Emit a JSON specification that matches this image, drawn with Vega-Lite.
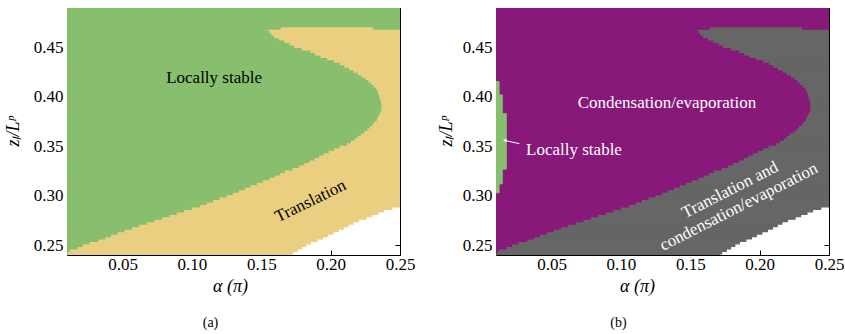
{
  "$schema": "https://vega.github.io/schema/vega-lite/v6.json",
  "background": "white",
  "padding": {"left": 4, "top": 7, "right": 0, "bottom": 3},
  "spacing": 22,
  "config": {
    "font": "Liberation Serif",
    "view": {"stroke": null},
    "axis": {
      "labelFont": "Liberation Serif", "labelFontSize": 17, "labelColor": "black",
      "titleFont": "Liberation Serif", "titleFontSize": 18, "titleFontWeight": "normal", "titleColor": "black",
      "tickColor": "black", "tickSize": -5, "tickWidth": 1, "domainColor": "black", "domainWidth": 1,
      "grid": false, "zindex": 1, "labelFlush": false, "labelOverlap": false
    }
  },
  "datasets": {
    "bands": [
      {"z1":0.2400,"z2":0.2413,"a0":0.01,"g":0.0100,"t":0.1707},
      {"z1":0.2413,"z2":0.2438,"a0":0.01,"g":0.0100,"t":0.1725},
      {"z1":0.2438,"z2":0.2463,"a0":0.01,"g":0.0115,"t":0.1758},
      {"z1":0.2463,"z2":0.2488,"a0":0.01,"g":0.0170,"t":0.1790},
      {"z1":0.2488,"z2":0.2513,"a0":0.01,"g":0.0210,"t":0.1820},
      {"z1":0.2513,"z2":0.2538,"a0":0.01,"g":0.0258,"t":0.1853},
      {"z1":0.2538,"z2":0.2563,"a0":0.01,"g":0.0320,"t":0.1900},
      {"z1":0.2563,"z2":0.2588,"a0":0.01,"g":0.0371,"t":0.1940},
      {"z1":0.2588,"z2":0.2613,"a0":0.01,"g":0.0412,"t":0.1975},
      {"z1":0.2613,"z2":0.2638,"a0":0.01,"g":0.0459,"t":0.2015},
      {"z1":0.2638,"z2":0.2663,"a0":0.01,"g":0.0510,"t":0.2055},
      {"z1":0.2663,"z2":0.2688,"a0":0.01,"g":0.0563,"t":0.2091},
      {"z1":0.2688,"z2":0.2713,"a0":0.01,"g":0.0615,"t":0.2126},
      {"z1":0.2713,"z2":0.2738,"a0":0.01,"g":0.0671,"t":0.2160},
      {"z1":0.2738,"z2":0.2763,"a0":0.01,"g":0.0725,"t":0.2200},
      {"z1":0.2763,"z2":0.2788,"a0":0.01,"g":0.0780,"t":0.2255},
      {"z1":0.2788,"z2":0.2813,"a0":0.01,"g":0.0832,"t":0.2295},
      {"z1":0.2813,"z2":0.2838,"a0":0.01,"g":0.0886,"t":0.2340},
      {"z1":0.2838,"z2":0.2863,"a0":0.01,"g":0.0939,"t":0.2380},
      {"z1":0.2863,"z2":0.2888,"a0":0.01,"g":0.0994,"t":0.2440},
      {"z1":0.2888,"z2":0.2913,"a0":0.01,"g":0.1055,"t":0.2500},
      {"z1":0.2913,"z2":0.2938,"a0":0.01,"g":0.1101,"t":0.2500},
      {"z1":0.2938,"z2":0.2963,"a0":0.01,"g":0.1147,"t":0.2500},
      {"z1":0.2963,"z2":0.2988,"a0":0.01,"g":0.1193,"t":0.2500},
      {"z1":0.2988,"z2":0.3013,"a0":0.01,"g":0.1243,"t":0.2500},
      {"z1":0.3013,"z2":0.3038,"a0":0.01,"g":0.1290,"t":0.2500},
      {"z1":0.3038,"z2":0.3063,"a0":0.01,"g":0.1333,"t":0.2500},
      {"z1":0.3063,"z2":0.3088,"a0":0.01,"g":0.1377,"t":0.2500},
      {"z1":0.3088,"z2":0.3113,"a0":0.01,"g":0.1420,"t":0.2500},
      {"z1":0.3113,"z2":0.3138,"a0":0.01,"g":0.1464,"t":0.2500},
      {"z1":0.3138,"z2":0.3163,"a0":0.01,"g":0.1507,"t":0.2500},
      {"z1":0.3163,"z2":0.3188,"a0":0.01,"g":0.1553,"t":0.2500},
      {"z1":0.3188,"z2":0.3213,"a0":0.01,"g":0.1592,"t":0.2500},
      {"z1":0.3213,"z2":0.3238,"a0":0.01,"g":0.1632,"t":0.2500},
      {"z1":0.3238,"z2":0.3263,"a0":0.01,"g":0.1665,"t":0.2500},
      {"z1":0.3263,"z2":0.3288,"a0":0.01,"g":0.1721,"t":0.2500},
      {"z1":0.3288,"z2":0.3313,"a0":0.01,"g":0.1768,"t":0.2500},
      {"z1":0.3313,"z2":0.3338,"a0":0.01,"g":0.1805,"t":0.2500},
      {"z1":0.3338,"z2":0.3363,"a0":0.01,"g":0.1843,"t":0.2500},
      {"z1":0.3363,"z2":0.3388,"a0":0.01,"g":0.1880,"t":0.2500},
      {"z1":0.3388,"z2":0.3413,"a0":0.01,"g":0.1913,"t":0.2500},
      {"z1":0.3413,"z2":0.3438,"a0":0.01,"g":0.1944,"t":0.2500},
      {"z1":0.3438,"z2":0.3463,"a0":0.01,"g":0.1981,"t":0.2500},
      {"z1":0.3463,"z2":0.3488,"a0":0.01,"g":0.2020,"t":0.2500},
      {"z1":0.3488,"z2":0.3513,"a0":0.01,"g":0.2060,"t":0.2500},
      {"z1":0.3513,"z2":0.3538,"a0":0.01,"g":0.2113,"t":0.2500},
      {"z1":0.3538,"z2":0.3563,"a0":0.01,"g":0.2140,"t":0.2500},
      {"z1":0.3563,"z2":0.3588,"a0":0.01,"g":0.2168,"t":0.2500},
      {"z1":0.3588,"z2":0.3613,"a0":0.01,"g":0.2191,"t":0.2500},
      {"z1":0.3613,"z2":0.3638,"a0":0.01,"g":0.2214,"t":0.2500},
      {"z1":0.3638,"z2":0.3663,"a0":0.01,"g":0.2238,"t":0.2500},
      {"z1":0.3663,"z2":0.3688,"a0":0.01,"g":0.2261,"t":0.2500},
      {"z1":0.3688,"z2":0.3713,"a0":0.01,"g":0.2279,"t":0.2500},
      {"z1":0.3713,"z2":0.3738,"a0":0.01,"g":0.2297,"t":0.2500},
      {"z1":0.3738,"z2":0.3763,"a0":0.01,"g":0.2312,"t":0.2500},
      {"z1":0.3763,"z2":0.3788,"a0":0.01,"g":0.2328,"t":0.2500},
      {"z1":0.3788,"z2":0.3813,"a0":0.01,"g":0.2336,"t":0.2500},
      {"z1":0.3813,"z2":0.3838,"a0":0.01,"g":0.2344,"t":0.2500},
      {"z1":0.3838,"z2":0.3863,"a0":0.01,"g":0.2353,"t":0.2500},
      {"z1":0.3863,"z2":0.3888,"a0":0.01,"g":0.2360,"t":0.2500},
      {"z1":0.3888,"z2":0.3913,"a0":0.01,"g":0.2361,"t":0.2500},
      {"z1":0.3913,"z2":0.3938,"a0":0.01,"g":0.2360,"t":0.2500},
      {"z1":0.3938,"z2":0.3963,"a0":0.01,"g":0.2357,"t":0.2500},
      {"z1":0.3963,"z2":0.3988,"a0":0.01,"g":0.2350,"t":0.2500},
      {"z1":0.3988,"z2":0.4013,"a0":0.01,"g":0.2344,"t":0.2500},
      {"z1":0.4013,"z2":0.4038,"a0":0.01,"g":0.2339,"t":0.2500},
      {"z1":0.4038,"z2":0.4063,"a0":0.01,"g":0.2334,"t":0.2500},
      {"z1":0.4063,"z2":0.4088,"a0":0.01,"g":0.2323,"t":0.2500},
      {"z1":0.4088,"z2":0.4113,"a0":0.01,"g":0.2305,"t":0.2500},
      {"z1":0.4113,"z2":0.4138,"a0":0.01,"g":0.2286,"t":0.2500},
      {"z1":0.4138,"z2":0.4163,"a0":0.01,"g":0.2268,"t":0.2500},
      {"z1":0.4163,"z2":0.4188,"a0":0.01,"g":0.2246,"t":0.2500},
      {"z1":0.4188,"z2":0.4213,"a0":0.01,"g":0.2219,"t":0.2500},
      {"z1":0.4213,"z2":0.4238,"a0":0.01,"g":0.2190,"t":0.2500},
      {"z1":0.4238,"z2":0.4263,"a0":0.01,"g":0.2160,"t":0.2500},
      {"z1":0.4263,"z2":0.4288,"a0":0.01,"g":0.2126,"t":0.2500},
      {"z1":0.4288,"z2":0.4313,"a0":0.01,"g":0.2093,"t":0.2500},
      {"z1":0.4313,"z2":0.4338,"a0":0.01,"g":0.2062,"t":0.2500},
      {"z1":0.4338,"z2":0.4363,"a0":0.01,"g":0.2020,"t":0.2500},
      {"z1":0.4363,"z2":0.4388,"a0":0.01,"g":0.1970,"t":0.2500},
      {"z1":0.4388,"z2":0.4413,"a0":0.01,"g":0.1922,"t":0.2500},
      {"z1":0.4413,"z2":0.4438,"a0":0.01,"g":0.1882,"t":0.2500},
      {"z1":0.4438,"z2":0.4463,"a0":0.01,"g":0.1848,"t":0.2500},
      {"z1":0.4463,"z2":0.4488,"a0":0.01,"g":0.1785,"t":0.2500},
      {"z1":0.4488,"z2":0.4513,"a0":0.01,"g":0.1731,"t":0.2500},
      {"z1":0.4513,"z2":0.4538,"a0":0.01,"g":0.1698,"t":0.2500},
      {"z1":0.4538,"z2":0.4563,"a0":0.01,"g":0.1662,"t":0.2500},
      {"z1":0.4563,"z2":0.4588,"a0":0.01,"g":0.1622,"t":0.2500},
      {"z1":0.4588,"z2":0.4613,"a0":0.01,"g":0.1588,"t":0.2500},
      {"z1":0.4613,"z2":0.4638,"a0":0.01,"g":0.1568,"t":0.2500},
      {"z1":0.4638,"z2":0.4663,"a0":0.01,"g":0.1555,"t":0.2500},
      {"z1":0.4663,"z2":0.4688,"a0":0.01,"g":0.1540,"t":0.2500},
      {"z1":0.4688,"z2":0.4713,"a0":0.01,"g":0.1635,"t":0.2310},
      {"z1":0.4713,"z2":0.4900,"a0":0.01,"g":0.2500,"t":0.2500}
    ],
    "patch": [{"z1":0.4688,"z2":0.4713,"a1":0.2310,"a2":0.2500}],
    "sliver": [
      {"z1":0.3030,"z2":0.3120,"a0":0.01,"s":0.0122},
      {"z1":0.3120,"z2":0.3270,"a0":0.01,"s":0.0145},
      {"z1":0.3270,"z2":0.3830,"a0":0.01,"s":0.0174},
      {"z1":0.3830,"z2":0.4020,"a0":0.01,"s":0.0145},
      {"z1":0.4020,"z2":0.4155,"a0":0.01,"s":0.0122}
    ],
    "one": [{}]
  },
  "hconcat": [
    {
      "width": 333, "height": 247,
      "title": {"text": "(a)", "orient": "bottom", "anchor": "middle", "frame": "group", "dx": -23, "offset": 21, "fontSize": 14, "fontWeight": "normal", "font": "Liberation Serif", "color": "black"},
      "resolve": {"axis": {"x": "independent", "y": "independent"}},
      "layer": [
        {
          "data": {"name": "bands"},
          "mark": {"type": "rect", "fill": "#eacf81", "stroke": "#eacf81", "strokeWidth": 1.4, "clip": true},
          "encoding": {
            "x": {"field": "a0", "type": "quantitative", "scale": {"domain": [0.01, 0.25], "nice": false, "zero": false},
                  "axis": {"orient": "bottom", "values": [0.05, 0.1, 0.15, 0.2, 0.25], "format": ".2f", "labelPadding": 6,
                           "title": "α (π)", "titleFontStyle": "italic", "titleX": 163, "titleY": 31, "titleAlign": "center", "titleBaseline": "middle"}},
            "x2": {"field": "t"},
            "y": {"field": "z1", "type": "quantitative", "scale": {"domain": [0.24, 0.49], "nice": false, "zero": false},
                  "axis": {"orient": "left", "values": [0.25, 0.3, 0.35, 0.4, 0.45], "format": ".2f", "labelPadding": 9,
                           "title": "zₗ/Lᵖ", "titleFontStyle": "italic", "titleAngle": 270, "titleX": -54, "titleY": 123, "titleAlign": "center", "titleBaseline": "middle"}},
            "y2": {"field": "z2"}
          }
        },
        {
          "data": {"name": "bands"},
          "mark": {"type": "rect", "fill": "#88bf6f", "stroke": "#88bf6f", "strokeWidth": 1.4, "clip": true},
          "encoding": {
            "x": {"field": "a0", "type": "quantitative", "axis": {"orient": "top", "values": [0.05, 0.1, 0.15, 0.2, 0.25], "labels": false, "title": null}},
            "x2": {"field": "g"},
            "y": {"field": "z1", "type": "quantitative", "axis": {"orient": "right", "values": [0.25, 0.3, 0.35, 0.4, 0.45], "labels": false, "title": null}},
            "y2": {"field": "z2"}
          }
        },
        {
          "data": {"name": "patch"},
          "mark": {"type": "rect", "fill": "#88bf6f", "stroke": "#88bf6f", "strokeWidth": 1.4, "clip": true},
          "encoding": {
            "x": {"field": "a1", "type": "quantitative", "axis": null},
            "x2": {"field": "a2"},
            "y": {"field": "z1", "type": "quantitative", "axis": null},
            "y2": {"field": "z2"}
          }
        },
        {
          "data": {"name": "one"},
          "mark": {"type": "text", "text": "Locally stable", "fontSize": 17, "font": "Liberation Serif", "color": "black", "align": "center", "baseline": "middle"},
          "encoding": {"x": {"datum": 0.116, "type": "quantitative", "axis": null}, "y": {"datum": 0.419, "type": "quantitative", "axis": null}}
        },
        {
          "data": {"name": "one"},
          "mark": {"type": "text", "text": "Translation", "fontSize": 17, "font": "Liberation Serif", "color": "black", "align": "center", "baseline": "middle", "angle": 334},
          "encoding": {"x": {"datum": 0.1855, "type": "quantitative", "axis": null}, "y": {"datum": 0.2945, "type": "quantitative", "axis": null}}
        }
      ]
    },
    {
      "width": 333, "height": 247,
      "title": {"text": "(b)", "orient": "bottom", "anchor": "middle", "frame": "group", "dx": -44, "offset": 21, "fontSize": 14, "fontWeight": "normal", "font": "Liberation Serif", "color": "black"},
      "resolve": {"axis": {"x": "independent", "y": "independent"}},
      "layer": [
        {
          "data": {"name": "bands"},
          "mark": {"type": "rect", "fill": "#666666", "stroke": "#666666", "strokeWidth": 1.4, "clip": true},
          "encoding": {
            "x": {"field": "a0", "type": "quantitative", "scale": {"domain": [0.01, 0.25], "nice": false, "zero": false},
                  "axis": {"orient": "bottom", "values": [0.05, 0.1, 0.15, 0.2, 0.25], "format": ".2f", "labelPadding": 6,
                           "title": "α (π)", "titleFontStyle": "italic", "titleX": 141, "titleY": 31, "titleAlign": "center", "titleBaseline": "middle"}},
            "x2": {"field": "t"},
            "y": {"field": "z1", "type": "quantitative", "scale": {"domain": [0.24, 0.49], "nice": false, "zero": false},
                  "axis": {"orient": "left", "values": [0.25, 0.3, 0.35, 0.4, 0.45], "format": ".2f", "labelPadding": 9,
                           "title": "zₗ/Lᵖ", "titleFontStyle": "italic", "titleAngle": 270, "titleX": -50, "titleY": 123, "titleAlign": "center", "titleBaseline": "middle"}},
            "y2": {"field": "z2"}
          }
        },
        {
          "data": {"name": "bands"},
          "mark": {"type": "rect", "fill": "#88187a", "stroke": "#88187a", "strokeWidth": 1.4, "clip": true},
          "encoding": {
            "x": {"field": "a0", "type": "quantitative", "axis": {"orient": "top", "values": [0.05, 0.1, 0.15, 0.2, 0.25], "labels": false, "title": null}},
            "x2": {"field": "g"},
            "y": {"field": "z1", "type": "quantitative", "axis": {"orient": "right", "values": [0.25, 0.3, 0.35, 0.4, 0.45], "labels": false, "title": null}},
            "y2": {"field": "z2"}
          }
        },
        {
          "data": {"name": "patch"},
          "mark": {"type": "rect", "fill": "#88187a", "stroke": "#88187a", "strokeWidth": 1.4, "clip": true},
          "encoding": {
            "x": {"field": "a1", "type": "quantitative", "axis": null},
            "x2": {"field": "a2"},
            "y": {"field": "z1", "type": "quantitative", "axis": null},
            "y2": {"field": "z2"}
          }
        },
        {
          "data": {"name": "sliver"},
          "mark": {"type": "rect", "fill": "#88bf6f", "stroke": "#88bf6f", "strokeWidth": 1, "clip": true},
          "encoding": {
            "x": {"field": "a0", "type": "quantitative", "axis": null},
            "x2": {"field": "s"},
            "y": {"field": "z1", "type": "quantitative", "axis": null},
            "y2": {"field": "z2"}
          }
        },
        {
          "data": {"name": "one"},
          "mark": {"type": "rule", "color": "white", "strokeWidth": 1},
          "encoding": {
            "x": {"datum": 0.0160, "type": "quantitative", "axis": null}, "x2": {"datum": 0.0268},
            "y": {"datum": 0.3560, "type": "quantitative", "axis": null}, "y2": {"datum": 0.3527}
          }
        },
        {
          "data": {"name": "one"},
          "mark": {"type": "point", "shape": "triangle-left", "filled": true, "color": "white", "size": 14, "opacity": 1},
          "encoding": {"x": {"datum": 0.0163, "type": "quantitative", "axis": null}, "y": {"datum": 0.3559, "type": "quantitative", "axis": null}}
        },
        {
          "data": {"name": "one"},
          "mark": {"type": "text", "text": "Condensation/evaporation", "fontSize": 17, "font": "Liberation Serif", "color": "white", "align": "center", "baseline": "middle"},
          "encoding": {"x": {"datum": 0.1332, "type": "quantitative", "axis": null}, "y": {"datum": 0.3942, "type": "quantitative", "axis": null}}
        },
        {
          "data": {"name": "one"},
          "mark": {"type": "text", "text": "Locally stable", "fontSize": 17, "font": "Liberation Serif", "color": "white", "align": "center", "baseline": "middle"},
          "encoding": {"x": {"datum": 0.0662, "type": "quantitative", "axis": null}, "y": {"datum": 0.3460, "type": "quantitative", "axis": null}}
        },
        {
          "data": {"name": "one"},
          "mark": {"type": "text", "text": ["Translation and", "condensation/evaporation"], "lineHeight": 19, "fontSize": 17, "font": "Liberation Serif", "color": "white", "align": "center", "baseline": "middle", "angle": 333},
          "encoding": {"x": {"datum": 0.1787, "type": "quantitative", "axis": null}, "y": {"datum": 0.3058, "type": "quantitative", "axis": null}}
        }
      ]
    }
  ]
}
